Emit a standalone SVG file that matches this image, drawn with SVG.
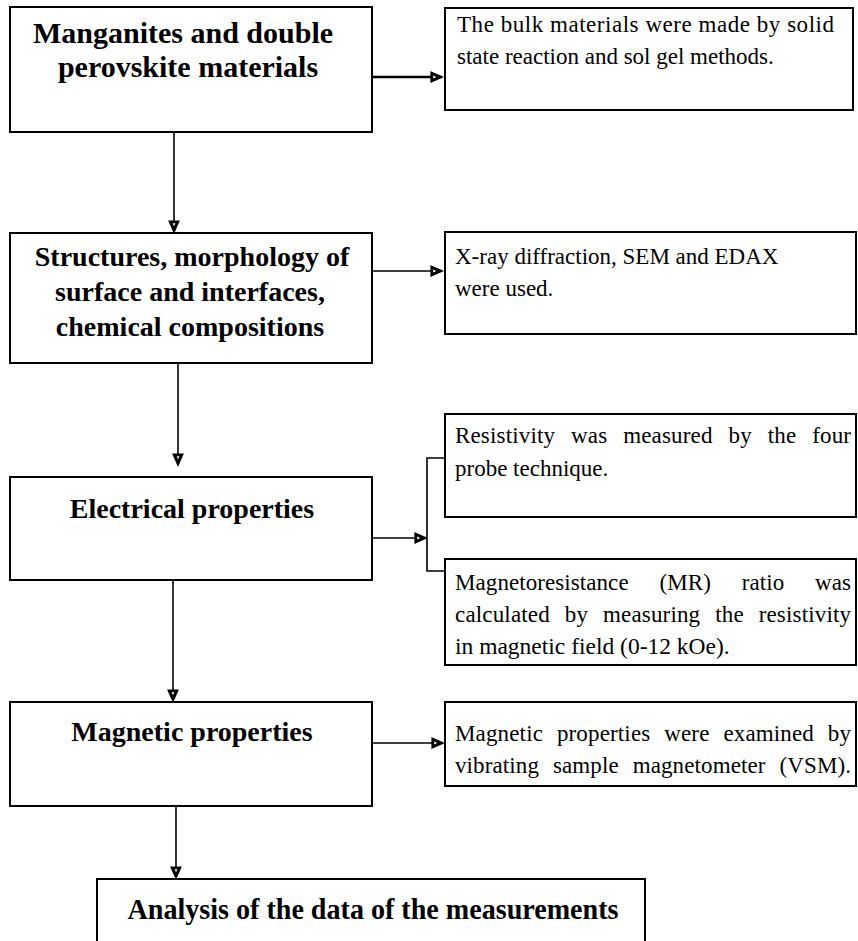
<svg xmlns="http://www.w3.org/2000/svg" width="858" height="941" viewBox="0 0 858 941">
<style>
.box{fill:#fff;stroke:#000;stroke-width:2}
.t{font-family:"Liberation Serif","Times New Roman",serif;font-weight:bold;font-size:28px;fill:#000;text-anchor:middle}
.r{font-family:"Liberation Serif","Times New Roman",serif;font-size:23px;fill:#000}
.c{fill:none;stroke:#000;stroke-width:1.6}
.thick{stroke-width:2.6}
</style>
<defs>
<marker id="ah" markerUnits="userSpaceOnUse" markerWidth="16" markerHeight="14" refX="12" refY="6" orient="auto" viewBox="0 0 16 14">
<path d="M1,1 L12.5,6 L1,11 Z" fill="#000" stroke="#000" stroke-width="1.2" stroke-linejoin="miter"/>
<path d="M3.2,4.6 L6.2,6 L3.2,7.4 Z" fill="#fff"/>
</marker>
</defs>
<rect width="858" height="941" fill="#fff"/>
<g id="connectors">
<line class="c thick" x1="372" y1="77" x2="442" y2="77" marker-end="url(#ah)"/>
<line class="c" x1="174" y1="132" x2="174" y2="232" marker-end="url(#ah)"/>
<line class="c" x1="372" y1="271" x2="442" y2="271" marker-end="url(#ah)"/>
<line class="c" x1="178" y1="363" x2="178" y2="465" marker-end="url(#ah)"/>
<line class="c" x1="372" y1="538" x2="426" y2="538" marker-end="url(#ah)"/>
<polyline class="c" points="445,458 427,458 427,571 445,571"/>
<line class="c" x1="173" y1="580" x2="173" y2="701" marker-end="url(#ah)"/>
<line class="c" x1="372" y1="743" x2="443" y2="743" marker-end="url(#ah)"/>
<line class="c" x1="176" y1="806" x2="176" y2="878" marker-end="url(#ah)"/>
</g>
<g id="n1">
<rect class="box" x="10" y="7" width="362" height="125"/>
<text class="t" x="183" y="43" style="font-size:30px">Manganites and double</text>
<text class="t" x="188" y="77" style="font-size:30px">perovskite materials</text>
</g>
<g id="n1r">
<rect class="box" x="445" y="8" width="408" height="102"/>
<text class="r" x="457" y="32" textLength="377" lengthAdjust="spacing">The bulk materials were made by solid</text>
<text class="r" x="457" y="64">state reaction and sol gel methods.</text>
</g>
<g id="n2">
<rect class="box" x="10" y="233" width="362" height="130"/>
<text class="t" x="192" y="266">Structures, morphology of</text>
<text class="t" x="190" y="301">surface and interfaces,</text>
<text class="t" x="190" y="336">chemical compositions</text>
</g>
<g id="n2r">
<rect class="box" x="445" y="232" width="411" height="102"/>
<text class="r" x="455" y="264">X-ray diffraction, SEM and EDAX</text>
<text class="r" x="455" y="296">were used.</text>
</g>
<g id="n3">
<rect class="box" x="10" y="477" width="362" height="103"/>
<text class="t" x="192" y="518">Electrical properties</text>
</g>
<g id="n3a">
<rect class="box" x="445" y="414" width="411" height="103"/>
<text class="r" x="455" y="443" word-spacing="10" textLength="396" lengthAdjust="spacing">Resistivity was measured by the four</text>
<text class="r" x="455" y="476">probe technique.</text>
</g>
<g id="n3b">
<rect class="box" x="445" y="559" width="411" height="106"/>
<text class="r" x="455" y="590" word-spacing="25" textLength="396" lengthAdjust="spacing">Magnetoresistance (MR) ratio was</text>
<text class="r" x="455" y="622" word-spacing="9" textLength="396" lengthAdjust="spacing">calculated by measuring the resistivity</text>
<text class="r" x="455" y="654" style="font-size:23.5px">in magnetic field (0-12 kOe).</text>
</g>
<g id="n4">
<rect class="box" x="10" y="702" width="362" height="104"/>
<text class="t" x="192" y="741">Magnetic properties</text>
</g>
<g id="n4r">
<rect class="box" x="445" y="702" width="411" height="84"/>
<text class="r" x="455" y="741" word-spacing="8" textLength="396" lengthAdjust="spacing">Magnetic properties were examined by</text>
<text class="r" x="455" y="773" word-spacing="8" textLength="396" lengthAdjust="spacing">vibrating sample magnetometer (VSM).</text>
</g>
<g id="n5">
<rect class="box" x="97" y="879" width="548" height="80"/>
<text class="t" x="373" y="919" style="font-size:30px" textLength="491" lengthAdjust="spacingAndGlyphs">Analysis of the data of the measurements</text>
</g>
</svg>
